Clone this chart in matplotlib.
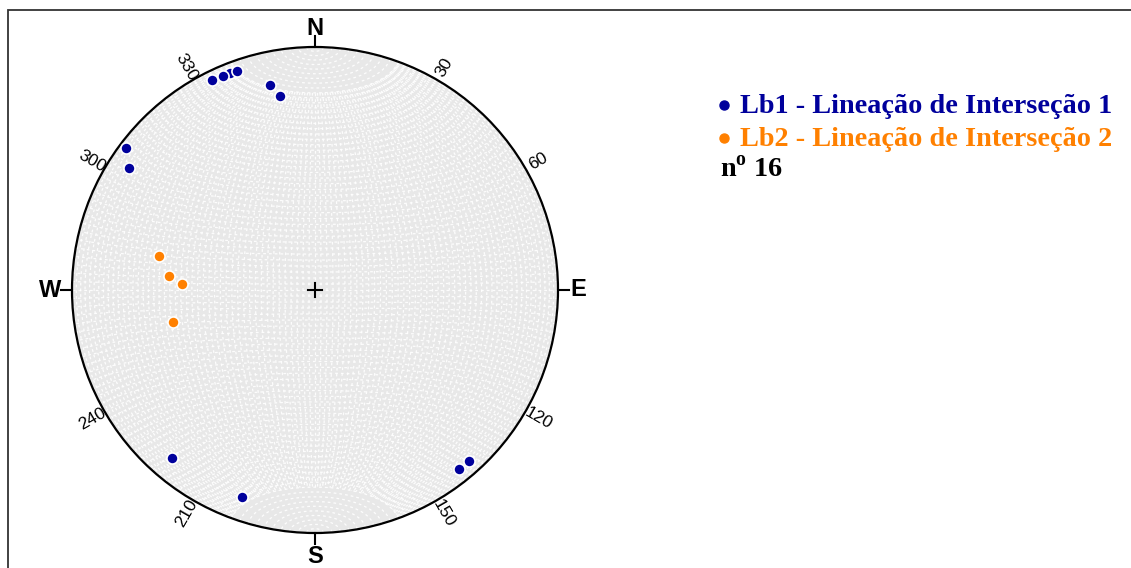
import matplotlib
matplotlib.use('Agg')
import matplotlib.pyplot as plt
import numpy as np

# lineations: trend / plunge in degrees
lb1_trend = [338.6, 333.9, 336.7, 340.4, 347.6, 349.8, 306.9, 303.3, 220.4, 199.4, 141.2, 138.0]
lb1_plunge = [4.6, 4.2, 4.6, 4.9, 14.7, 20.0, 3.1, 9.3, 10.1, 10.6, 6.1, 5.9]
lb2_trend = [282.3, 275.5, 272.6, 257.3]
lb2_plunge = [34.6, 39.5, 44.4, 39.9]

legend_labels = ['Lb1 - Lineação de Interseção 1', 'Lb2 - Lineação de Interseção 2']
legend_colors = ['#00009C', '#FF8000']
n_total = 16

ring_labels = [30, 60, 120, 150, 210, 240, 300, 330]
cardinals = [('N', 0, 1.075), ('E', 90, 1.085), ('S', 180, 1.095), ('W', 270, 1.09)]

plt.rcParams['mathtext.fontset'] = 'custom'
plt.rcParams['mathtext.rm'] = 'Liberation Serif:bold'
plt.rcParams['mathtext.bf'] = 'Liberation Serif:bold'


def project(e, n, d):
    # lambert equal-area, lower hemisphere, unit primitive
    k = 1.0 / np.sqrt(1.0 + d)
    return e * k, n * k


def line_xy(trend, plunge):
    t = np.radians(trend)
    p = np.radians(plunge)
    return project(np.cos(p) * np.sin(t), np.cos(p) * np.cos(t), np.sin(p))


W, H = 1131, 568
cx, cy, R = 315, 290, 243

fig = plt.figure(figsize=(W / 100, H / 100), dpi=100)
ax = fig.add_axes([0, 0, 1, 1])
ax.set_xlim(-cx / R, (W - cx) / R)
ax.set_ylim((cy - H) / R, cy / R)
ax.axis('off')

# outer frame
ax.add_patch(plt.Rectangle(((8 - cx) / R, (cy - 600) / R), 1200 / R, (600 - 10) / R,
                           fill=False, ec='#333333', lw=1.3))

disk = plt.Circle((0, 0), 1, fc='#E8E8E8', ec='none', zorder=1)
ax.add_patch(disk)

# net grid, 2 degree spacing, axis N-S
grid_kw = dict(color='white', lw=0.9, ls=(0, (2.2, 2.4)), zorder=2, alpha=0.9)
s = np.radians(np.linspace(0, 180, 181))
t = np.radians(np.linspace(20, 160, 141))
for dip in range(2, 90, 2):
    d = np.radians(dip)
    for sign in (1, -1):
        e = sign * np.sin(t) * np.cos(d)
        n = np.cos(t)
        z = np.sin(t) * np.sin(d)
        x, y = project(e, n, z)
        ax.plot(x, y, **grid_kw)[0].set_clip_path(disk)
x, y = project(0 * t, np.cos(t), np.sin(t))
ax.plot(x, y, **grid_kw)
for a in range(2, 180, 2):
    ar = np.radians(a)
    e = np.sin(ar) * np.cos(s)
    n = np.full_like(s, np.cos(ar))
    z = np.sin(ar) * np.sin(s)
    x, y = project(e, n, z)
    ax.plot(x, y, **grid_kw)[0].set_clip_path(disk)

# primitive
ax.add_patch(plt.Circle((0, 0), 1, fill=False, ec='black', lw=1.6, zorder=5))

# center cross
c = 7 / R
ax.plot([-c, c], [0, 0], color='black', lw=1.5, zorder=6)
ax.plot([0, 0], [-c, c], color='black', lw=1.5, zorder=6)

# cardinal ticks and labels
for lab, az, rr in cardinals:
    a = np.radians(az)
    ax.plot([np.sin(a), 1.045 * np.sin(a)], [np.cos(a), 1.045 * np.cos(a)],
            color='black', lw=1.5, zorder=5)
    ax.text(rr * np.sin(a), rr * np.cos(a), lab, ha='center', va='center',
            family='Liberation Sans', fontweight='bold', fontsize=17)

for az in ring_labels:
    a = np.radians(az)
    rot = ((90 - az) + 90) % 180 - 90
    ax.text(1.06 * np.sin(a), 1.06 * np.cos(a), str(az), ha='center', va='center',
            rotation=rot, rotation_mode='anchor', family='Liberation Sans', fontsize=12.5)

# data
for tr, pl, col in [(lb1_trend, lb1_plunge, legend_colors[0]),
                    (lb2_trend, lb2_plunge, legend_colors[1])]:
    x, y = line_xy(np.array(tr), np.array(pl))
    for xi, yi in zip(x, y):
        ax.plot(xi, yi, 'o', color=col, ms=8, mec='white', mew=1.2, zorder=7)

# legend
for i, (lab, col) in enumerate(zip(legend_labels, legend_colors)):
    ybase = 113 + i * 33
    fig.lines.append(plt.Line2D([724 / W], [1 - (ybase - 8) / H], marker='o', ms=6.5,
                                color=col, transform=fig.transFigure))
    fig.text(740 / W, 1 - ybase / H, lab, color=col, family='Liberation Serif',
             fontweight='bold', fontsize=20.3, va='baseline', ha='left')
fig.text(720 / W, 1 - 177 / H, r'n$^{\rm o}$ %d' % n_total, color='black',
         family='Liberation Serif', fontweight='bold', fontsize=20.3,
         va='baseline', ha='left')

fig.savefig('out.png', dpi=100)
